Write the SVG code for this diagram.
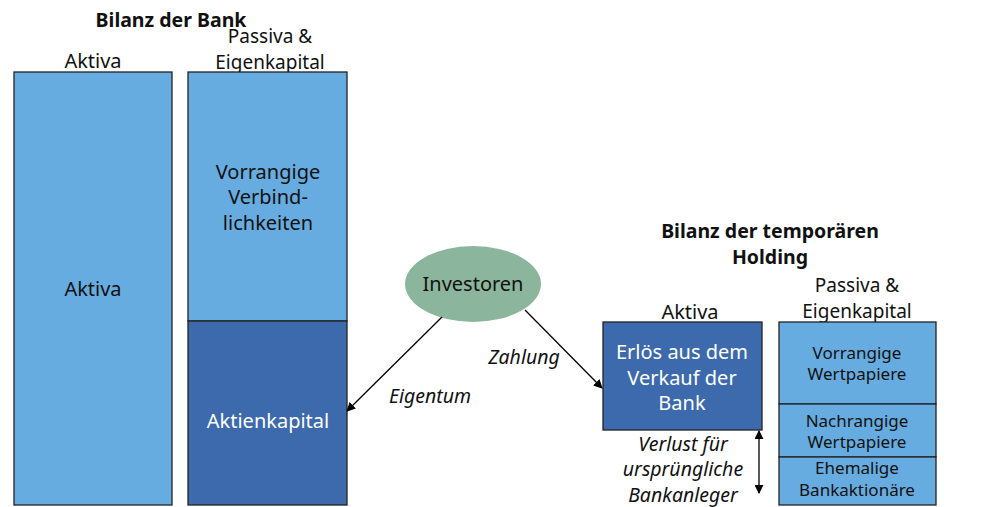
<svg xmlns="http://www.w3.org/2000/svg" width="985" height="507" viewBox="0 0 985 507">
<defs>
<marker id="ah" viewBox="0 0 10 10" refX="9" refY="5" markerWidth="9" markerHeight="9" orient="auto-start-reverse" markerUnits="userSpaceOnUse"><path d="M0,0 L10,5 L0,10 z" fill="#000"/></marker>
<style>
text{font-family:"Segoe UI","Noto Sans","Open Sans",sans-serif;text-anchor:middle;dominant-baseline:central;fill:#111}
.l{fill:#67ace0;stroke:#222;stroke-width:1.3}
.d{fill:#3c6aac;stroke:#222;stroke-width:1.3}
.t20{font-size:20px}
.t19{font-size:19px}
.t17{font-size:17px}
.b{font-weight:bold;font-size:19.5px}
.i{font-style:italic;font-size:19.5px}
.w{fill:#fff}
.c{stroke:#000;stroke-width:1.3;fill:none}
</style>
</defs>
<rect width="985" height="507" fill="#fff"/>
<g id="title-bank"><text class="b" x="171" y="19">Bilanz der Bank</text></g>
<g id="aktiva-bank">
<text class="t20" x="93" y="60">Aktiva</text>
<rect class="l" x="14" y="72" width="158" height="433"/>
<text class="t20" x="93" y="288">Aktiva</text>
</g>
<g id="passiva-bank">
<text class="t19" x="270" y="36">Passiva &amp;</text>
<text class="t19" x="270" y="62">Eigenkapital</text>
<rect class="l" x="188" y="72" width="159" height="249"/>
<text class="t20" x="268" y="171">Vorrangige</text>
<text class="t20" x="268" y="196">Verbind-</text>
<text class="t20" x="268" y="222">lichkeiten</text>
</g>
<g id="aktienkapital">
<rect class="d" x="188" y="321" width="159" height="184"/>
<text class="t20 w" x="268" y="420">Aktienkapital</text>
</g>
<g id="investoren">
<ellipse cx="473" cy="284" rx="68" ry="38" fill="#8cb59d"/>
<text class="t20" x="473" y="283">Investoren</text>
</g>
<g id="title-holding">
<text class="b" x="770" y="230">Bilanz der temporären</text>
<text class="b" x="770" y="256">Holding</text>
</g>
<g id="aktiva-holding">
<text class="t20" x="690" y="311">Aktiva</text>
<rect class="d" x="603" y="322" width="159" height="108"/>
<text class="t20 w" x="682" y="351">Erlös aus dem</text>
<text class="t20 w" x="682" y="377">Verkauf der</text>
<text class="t20 w" x="682" y="402">Bank</text>
</g>
<g id="passiva-holding">
<text class="t19" x="857" y="285">Passiva &amp;</text>
<text class="t19" x="857" y="311">Eigenkapital</text>
</g>
<g id="vorrangige-wp">
<rect class="l" x="779" y="322" width="157" height="82"/>
<text class="t17" x="857" y="352">Vorrangige</text>
<text class="t17" x="857" y="373">Wertpapiere</text>
</g>
<g id="nachrangige-wp">
<rect class="l" x="779" y="404" width="157" height="53"/>
<text class="t17" x="857" y="420">Nachrangige</text>
<text class="t17" x="857" y="441">Wertpapiere</text>
</g>
<g id="ehemalige">
<rect class="l" x="779" y="457" width="157" height="48"/>
<text class="t17" x="857" y="467">Ehemalige</text>
<text class="t17" x="857" y="489">Bankaktionäre</text>
</g>
<g id="verlust">
<text class="i" x="683" y="443">Verlust für</text>
<text class="i" x="683" y="468">ursprüngliche</text>
<text class="i" x="683" y="494">Bankanleger</text>
</g>
<g id="connectors">
<line class="c" x1="442" y1="317" x2="347" y2="411" marker-end="url(#ah)"/>
<line class="c" x1="525" y1="310" x2="602" y2="388" marker-end="url(#ah)"/>
<line class="c" x1="759" y1="431" x2="759" y2="493" marker-start="url(#ah)" marker-end="url(#ah)"/>
<text class="i" x="430" y="395">Eigentum</text>
<text class="i" x="524" y="356">Zahlung</text>
</g>
</svg>
